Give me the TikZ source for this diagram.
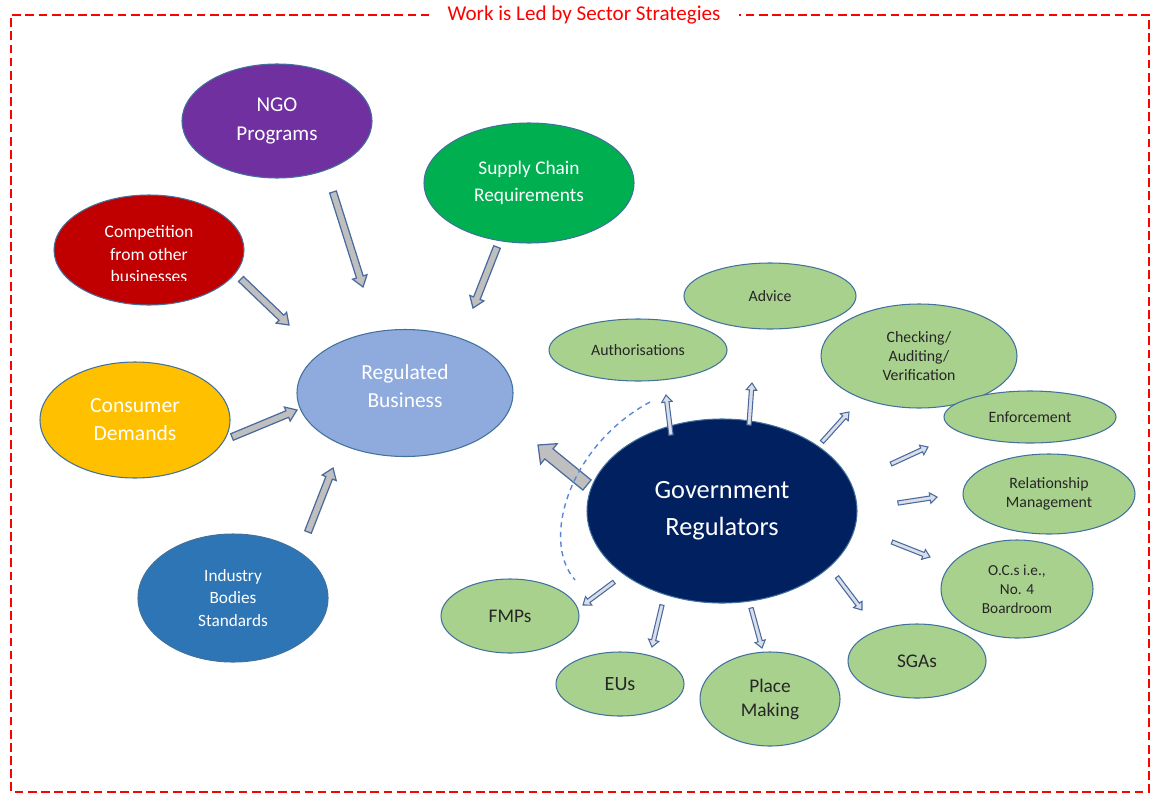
\documentclass[tikz,border=0pt]{standalone}
\usepackage{fontspec}
\setmainfont{Carlito}
\usetikzlibrary{calc,shapes.geometric}

\definecolor{ngoPurple}{HTML}{7030A0}
\definecolor{supplyGreen}{HTML}{00B050}
\definecolor{compRed}{HTML}{C00000}
\definecolor{consYellow}{HTML}{FFC000}
\definecolor{regBlue}{HTML}{8FAADC}
\definecolor{indBlue}{HTML}{2E75B6}
\definecolor{govNavy}{HTML}{002060}
\definecolor{subGreen}{HTML}{A9D18E}
\definecolor{edgeBlue}{HTML}{41719C}
\definecolor{arrowEdge}{HTML}{4A6A9E}
\definecolor{arrowGray}{HTML}{BFBFBF}
\definecolor{thinFill}{HTML}{D9DEE8}
\definecolor{frameRed}{HTML}{FF0000}
\definecolor{linkBlue}{HTML}{5B87D4}

% block arrow: tail #2, tip #3, half shaft #4, half head #5, head length #6
\newcommand\blockarrow[6][]{%
	\coordinate (neck) at ($(#3)!#6!(#2)$);
	\draw[#1] ($(#2)!#4!90:(#3)$) -- ($(neck)!#4!90:(#3)$)
		-- ($(neck)!#5!90:(#3)$) -- (#3) -- ($(neck)!#5!-90:(#3)$)
		-- ($(neck)!#4!-90:(#3)$) -- ($(#2)!#4!-90:(#3)$) -- cycle;
}

\begin{document}
\begin{tikzpicture}[x=0.02cm, y=-0.02cm,
		px/.style 2 args={minimum width=#1*0.02cm, minimum height=#2*0.02cm},
		bubble/.style={ellipse, draw=edgeBlue, line width=0.6pt, inner sep=0pt, align=center},
		driver/.style={bubble, text=white},
		task/.style={bubble, fill=subGreen, text=black!85},
		fs/.style 2 args={font=\fontsize{#1}{#2}\selectfont},
		feed/.style={fill=arrowGray, draw=arrowEdge, line width=0.7pt, line join=miter},
		spoke/.style={fill=thinFill, draw=arrowEdge, line width=0.6pt, line join=miter}]
		\useasboundingbox (0,0) rectangle (1155,794);

		% frame and title
		\node[text=frameRed, fs={12}{14}] (title) at (584,15) {Work is Led by Sector Strategies};
		\draw[frameRed, line width=0.6pt, dash pattern=on 5pt off 2.5pt]
			(title.west) ++(-12,0) -- (11,15) -- (11,792) -- (1149,792) -- (1149,15) -- ([xshift=12*0.02cm]title.east);

		% outside drivers
		\node[driver, fill=ngoPurple, px={190}{114}, fs={12}{16}] (ngo) at (277,121) {NGO\\Programs};
		\node[driver, fill=supplyGreen, px={210}{120}, fs={11}{15.3}] (supply) at (529,183) {Supply Chain\\Requirements};
		\node[driver, fill=compRed, px={190}{110}] (comp) at (149,250) {};
		\begin{scope}
			\clip (40,190) rectangle (260,280);
			\node[text=white, align=center, fs={10}{13}] (comptext) at (149,254) {Competition\\from other\\businesses};
		\end{scope}
		\node[driver, fill=consYellow, px={190}{116}, fs={12.3}{16}] (cons) at (135,420) {Consumer\\Demands};
		\node[driver, fill=regBlue, px={216}{127}] (reg) at (405,393) {};
		\node[text=white, align=center, fs={12.2}{16}] (regtext) at (405,386) {Regulated\\Business};
		\node[driver, fill=indBlue, px={190}{128}, fs={9.8}{13}] (ind) at (233,598) {Industry\\Bodies\\Standards};
		\node[driver, fill=govNavy, px={270}{184}, fs={15}{21}] (gov) at (722,511) {Government\\Regulators};

		% regulator activities
		\node[task, px={172}{66}, fs={9}{11}] (advice) at (770,296) {Advice};
		\node[task, px={178}{62}, fs={9}{11}] (auth) at (638,350) {Authorisations};
		\node[task, px={196}{104}, fs={9}{10.8}] (check) at (919,356) {Checking/\\Auditing/\\Verification};
		\node[task, px={172}{52}, fs={9}{11}] (enf) at (1030,417) {Enforcement};
		\node[task, px={172}{80}, fs={9}{11}] (rel) at (1049,494) {Relationship\\Management};
		\node[task, px={152}{98}, fs={8.7}{10.8}] (ocs) at (1017,589) {O.C.s i.e.,\\No. 4\\Boardroom};
		\node[task, px={138}{74}, fs={11}{13}] (sgas) at (917,661) {SGAs};
		\node[task, px={140}{94}, fs={11}{13.6}] (place) at (770,699) {Place\\Making};
		\node[task, px={128}{64}, fs={11.5}{13}] (eus) at (620,684) {EUs};
		\node[task, px={138}{74}, fs={11}{13}] (fmps) at (510,616) {FMPs};

		% arrow ends
		\foreach \nm/\tx/\ty/\hx/\hy in {comp/241/279/289/325, ngo/333/192/363/287, supply/497/247/473/308,
				cons/232/437/297/410, ind/308/532/333/468, gov/587/485/538/445,
				auth/671/435/666/395, advice/749/425/752/383, check/822/442/849/412,
				enf/891/464/928/447, rel/898/503/937/497, ocs/892/542/930/557,
				sgas/837/577/862/610, place/751/608/762/648, eus/662/605/652/647, fmps/614/582/583/605}
			{\coordinate (\nm-t) at (\tx,\ty); \coordinate (\nm-h) at (\hx,\hy);}

		\foreach \nm in {comp,ngo,supply,cons,ind}
			{\blockarrow[feed]{\nm-t}{\nm-h}{2pt}{4.3pt}{6pt}}
		\blockarrow[feed]{gov-t}{gov-h}{3.7pt}{7.5pt}{8pt}
		\foreach \nm in {auth,advice,check,enf,rel,ocs,sgas,place,eus,fmps}
			{\blockarrow[spoke]{\nm-t}{\nm-h}{1.2pt}{3pt}{4pt}}

		% dashed link
		\coordinate (link-a) at (650,402);
		\coordinate (link-b) at (575,580);
		\draw[linkBlue, line width=0.8pt, dash pattern=on 3pt off 2.5pt]
			(link-a) .. controls (570,445) and (540,540) .. (link-b);
	\end{tikzpicture}
\end{document}
